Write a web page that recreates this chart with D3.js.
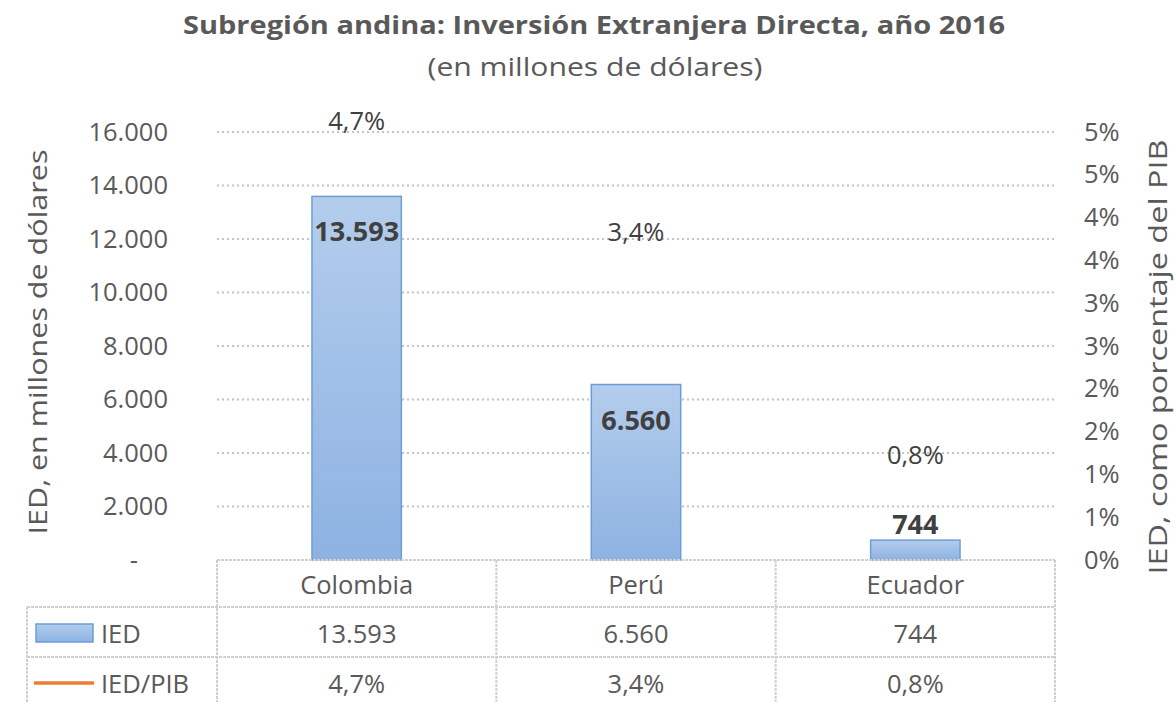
<!DOCTYPE html>
<html>
<head>
<meta charset="utf-8">
<script src="https://cdn.jsdelivr.net/npm/d3@7"></script>
<style>
  body { margin: 0; background: #fff; }
  text { font-family: "Open Sans", "Noto Sans", sans-serif; }
</style>
</head>
<body>
<svg id="chart" width="1176" height="702"></svg>
<script>
// data
const countries = ["Colombia", "Perú", "Ecuador"];
const iedValues = [13593, 6560, 744];
const iedPibValues = [4.7, 3.4, 0.8];
const leftTicks = [0, 2000, 4000, 6000, 8000, 10000, 12000, 14000, 16000];
const rightTicks = [0, 0.5, 1, 1.5, 2, 2.5, 3, 3.5, 4, 4.5, 5];
const rightTickLabels = ["0%", "1%", "1%", "2%", "2%", "3%", "3%", "4%", "4%", "5%", "5%"];

const es = d3.formatLocale({decimal: ",", thousands: ".", grouping: [3], currency: ["$", ""]});
const fmtNum = es.format(",.0f");
const fmtPct = v => es.format(".1f")(v) + "%";

const svg = d3.select("#chart");
const grey = "#595959";
const dark = "#404040";
const fs = "25.5px";

const plotL = 217, plotR = 1055, plotT = 132, plotB = 560;

const x = d3.scaleBand().domain(countries).range([plotL, plotR]).paddingInner(0).paddingOuter(0);
const y = d3.scaleLinear().domain([0, 16000]).range([plotB, plotT]);
const y2 = d3.scaleLinear().domain([0, 5]).range([plotB, plotT]);

// gradient for bars
const defs = svg.append("defs");
const grad = defs.append("linearGradient").attr("id", "barGrad")
  .attr("x1", 0).attr("y1", 0).attr("x2", 0).attr("y2", 1);
grad.append("stop").attr("offset", "0%").attr("stop-color", "#b3cdec");
grad.append("stop").attr("offset", "100%").attr("stop-color", "#8db2e2");

// title
svg.append("text").attr("x", 594).attr("y", 34).attr("text-anchor", "middle")
  .style("font-size", "25px").style("font-weight", "bold").attr("fill", grey)
  .attr("textLength", 822).attr("lengthAdjust", "spacingAndGlyphs")
  .text("Subregión andina: Inversión Extranjera Directa, año 2016");
svg.append("text").attr("x", 595).attr("y", 76).attr("text-anchor", "middle")
  .style("font-size", "25px").attr("fill", grey)
  .attr("textLength", 335).attr("lengthAdjust", "spacingAndGlyphs")
  .text("(en millones de dólares)");

// gridlines
svg.append("g").selectAll("line")
  .data(leftTicks.filter(d => d > 0))
  .join("line")
  .attr("x1", plotL).attr("x2", plotR)
  .attr("y1", d => y(d)).attr("y2", d => y(d))
  .attr("stroke", "#c4c4c4").attr("stroke-width", 2)
  .attr("stroke-dasharray", "2,3");

// left axis
const yAxis = d3.axisLeft(y).tickValues(leftTicks)
  .tickFormat(d => d === 0 ? "-" : fmtNum(d)).tickSize(0).tickPadding(0);
const gl = svg.append("g").attr("transform", "translate(168,0)").call(yAxis);
gl.select(".domain").remove();
gl.selectAll("text").style("font-size", fs).attr("fill", grey)
  .style("font-family", "'Open Sans', sans-serif");
gl.selectAll("text").filter(d => d === 0).attr("dx", "-30");

// right axis
const yAxis2 = d3.axisRight(y2).tickValues(rightTicks)
  .tickFormat((d, i) => rightTickLabels[i]).tickSize(0).tickPadding(0);
const gr = svg.append("g").attr("transform", "translate(1084,0)").call(yAxis2);
gr.select(".domain").remove();
gr.selectAll("text").style("font-size", fs).attr("fill", grey)
  .style("font-family", "'Open Sans', sans-serif");

// axis titles
svg.append("text").attr("transform", "translate(47,342) rotate(-90)")
  .attr("text-anchor", "middle").style("font-size", "25px").attr("fill", grey)
  .attr("textLength", 385).attr("lengthAdjust", "spacingAndGlyphs")
  .text("IED, en millones de dólares");
svg.append("text").attr("transform", "translate(1167,357) rotate(-90)")
  .attr("text-anchor", "middle").style("font-size", "25px").attr("fill", grey)
  .attr("textLength", 435).attr("lengthAdjust", "spacingAndGlyphs")
  .text("IED, como porcentaje del PIB");

// bars
const barW = x.bandwidth() * 0.32;
svg.append("g").selectAll("rect")
  .data(countries)
  .join("rect")
  .attr("x", d => x(d) + x.bandwidth() / 2 - barW / 2)
  .attr("y", (d, i) => y(iedValues[i]))
  .attr("width", barW)
  .attr("height", (d, i) => plotB - y(iedValues[i]))
  .attr("fill", "url(#barGrad)")
  .attr("stroke", "#6d9dd6").attr("stroke-width", 1.5);

// bar value labels
svg.append("g").selectAll("text")
  .data(countries)
  .join("text")
  .attr("x", d => x(d) + x.bandwidth() / 2)
  .attr("y", (d, i) => iedValues[i] > 2000 ? y(iedValues[i]) + 45 : y(iedValues[i]) - 6)
  .attr("text-anchor", "middle")
  .style("font-size", "27px").style("font-weight", "bold").attr("fill", dark)
  .text((d, i) => fmtNum(iedValues[i]));

// percent labels (line is not drawn, only labels)
svg.append("g").selectAll("text")
  .data(countries)
  .join("text")
  .attr("x", d => x(d) + x.bandwidth() / 2)
  .attr("y", (d, i) => y2(iedPibValues[i]) - 28)
  .attr("text-anchor", "middle")
  .style("font-size", fs).attr("fill", dark)
  .text((d, i) => fmtPct(iedPibValues[i]));

// data table
const rowY = [plotB, 607, 657, 705];
const tg = svg.append("g");
const lineStyle = sel => sel.attr("stroke", "#d0d0d0").attr("stroke-width", 2)
  .attr("stroke-dasharray", "3,1");
// horizontal lines
tg.append("line").attr("x1", plotL).attr("x2", plotR).attr("y1", rowY[0]).attr("y2", rowY[0]).call(lineStyle);
tg.append("line").attr("x1", 27).attr("x2", plotR).attr("y1", rowY[1]).attr("y2", rowY[1]).call(lineStyle);
tg.append("line").attr("x1", 27).attr("x2", plotR).attr("y1", rowY[2]).attr("y2", rowY[2]).call(lineStyle);
// vertical lines
const cols = countries.map(d => x(d)).concat([plotR]);
tg.selectAll("line.v").data(cols).join("line").attr("class", "v")
  .attr("x1", d => d).attr("x2", d => d).attr("y1", rowY[0]).attr("y2", rowY[3]).call(lineStyle);
tg.append("line").attr("x1", 27).attr("x2", 27).attr("y1", rowY[1]).attr("y2", rowY[3]).call(lineStyle);

// header
tg.selectAll("text.h").data(countries).join("text").attr("class", "h")
  .attr("x", d => x(d) + x.bandwidth() / 2).attr("y", 594)
  .attr("text-anchor", "middle").style("font-size", fs).attr("fill", grey)
  .text(d => d);
tg.selectAll("text.r1").data(countries).join("text").attr("class", "r1")
  .attr("x", d => x(d) + x.bandwidth() / 2).attr("y", 643)
  .attr("text-anchor", "middle").style("font-size", fs).attr("fill", grey)
  .text((d, i) => fmtNum(iedValues[i]));
tg.selectAll("text.r2").data(countries).join("text").attr("class", "r2")
  .attr("x", d => x(d) + x.bandwidth() / 2).attr("y", 693)
  .attr("text-anchor", "middle").style("font-size", fs).attr("fill", grey)
  .text((d, i) => fmtPct(iedPibValues[i]));

// legend keys
tg.append("rect").attr("x", 36).attr("y", 624).attr("width", 57).attr("height", 18)
  .attr("fill", "url(#barGrad)").attr("stroke", "#6d9dd6").attr("stroke-width", 1.5);
tg.append("text").attr("x", 101).attr("y", 643).style("font-size", fs).attr("fill", grey).text("IED");
tg.append("line").attr("x1", 34).attr("x2", 94).attr("y1", 683).attr("y2", 683)
  .attr("stroke", "#ed7d31").attr("stroke-width", 3.5);
tg.append("text").attr("x", 101).attr("y", 693).style("font-size", fs).attr("fill", grey).text("IED/PIB");
</script>
</body>
</html>
